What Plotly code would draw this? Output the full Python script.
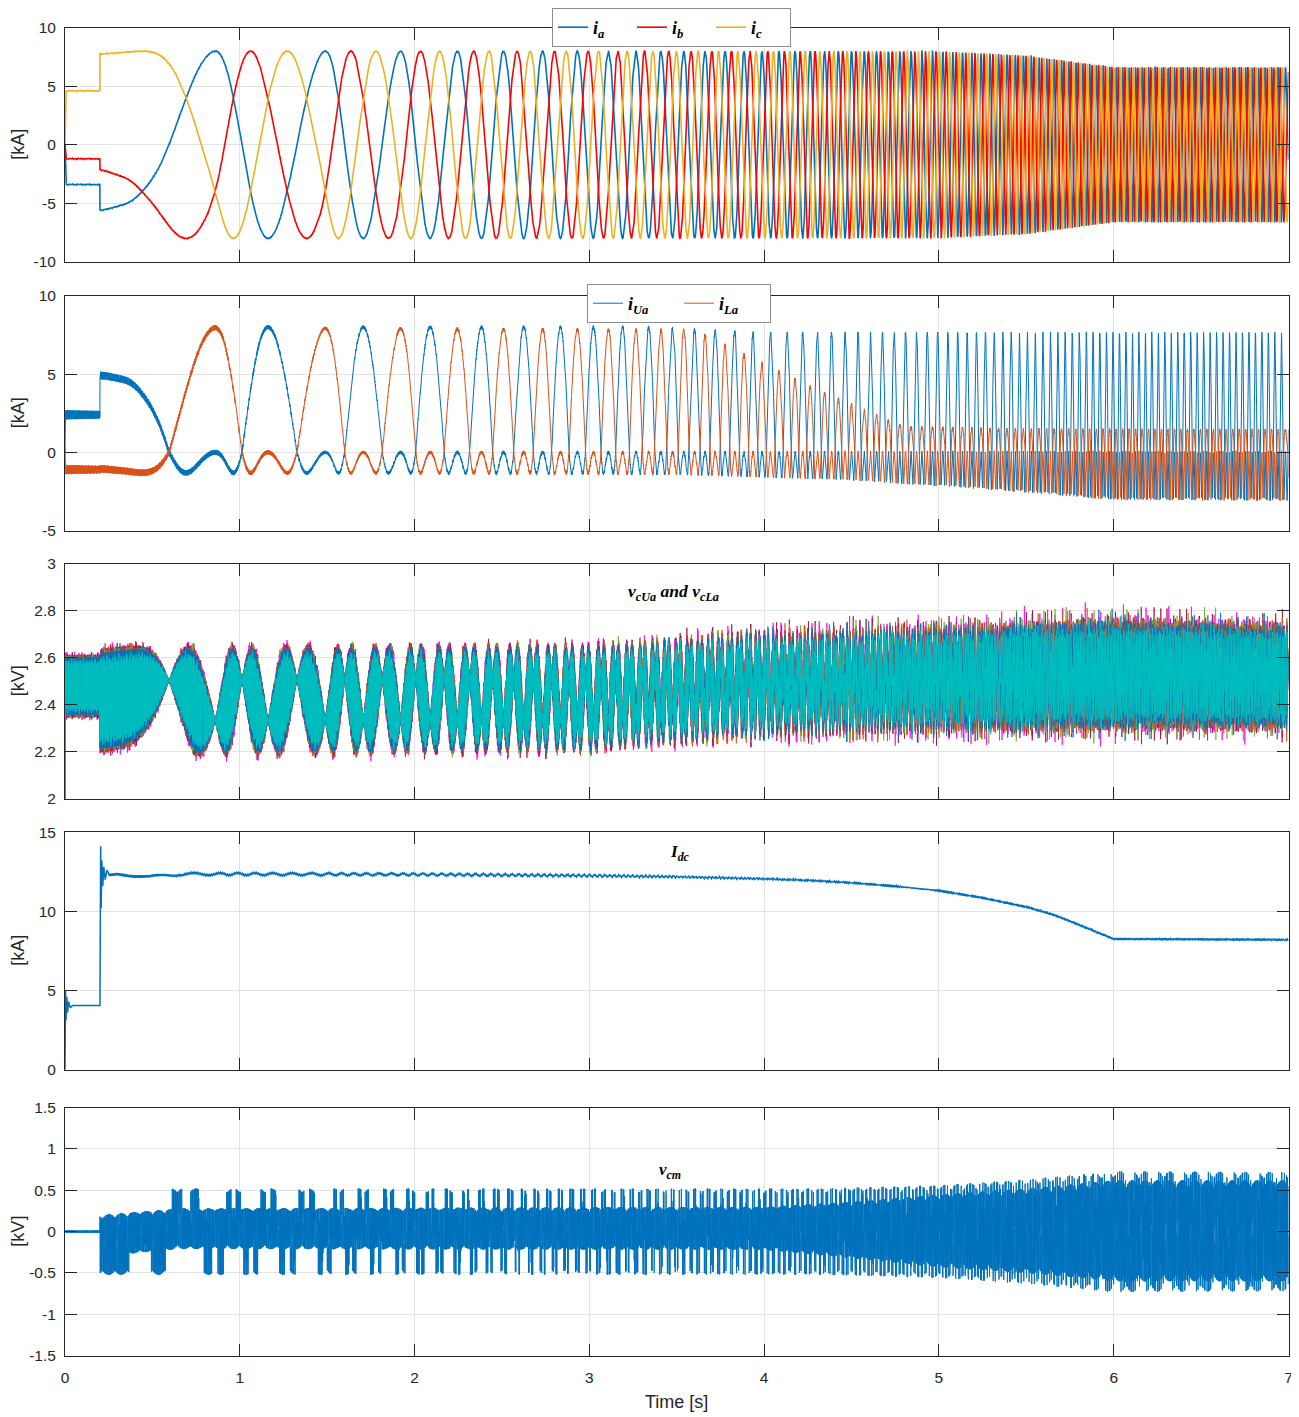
import numpy as np
import plotly.graph_objects as go

# ------------------------------------------------------------------ data
T_END = 7.0
DT = 0.0005
START_T = 0.2            # rotation starts

# rotating-system angle alpha (deg), ic = A cos(a), ia = A cos(a-120), ib = A cos(a+120), read at current extremes
phase_t = [0.20, 0.38, 0.44, 0.50, 0.58, 0.695, 0.865, 1.16, 1.494, 1.706, 1.923, 2.089]
phase_deg = [-15, -8, 0, 8, 25, 60, 120, 300, 480, 660, 840, 1020]
# stator frequency estimate after the last readable extreme
freq_t = [2.089, 3.0, 4.0, 5.0, 6.0, 7.0]
freq_hz = [3.0, 5.5, 10.0, 17.0, 27.0, 27.0]

# phase currents before start (kA)
init_t = [0.0, 0.004, 0.2]
init_ia = [0.0, -3.4, -3.4]
init_ib = [0.0, -1.2, -1.2]
init_ic = [0.0, 4.6, 4.6]
# phase current amplitude (kA)
amp_t = [0.2, 5.0, 5.5, 5.8, 6.0, 7.0]
amp_kA = [8.0, 7.95, 7.6, 7.0, 6.6, 6.6]

# arm currents (kA)
arm_pre_t = [0.0, 0.003, 0.2]
iua_pre = [0.0, 2.4, 2.4]
ila_pre = [0.0, -1.1, -1.1]
iua_peak_t = [0.2, 0.5, 0.8, 3.3, 4.0, 7.0]
iua_peak = [7.0, 7.6, 8.0, 8.0, 7.6, 7.6]
ila_peak_t = [0.2, 3.6, 4.3, 4.8, 5.5, 7.0]
ila_peak = [8.0, 7.8, 4.0, 1.6, 1.45, 1.4]
arm_dip_t = [0.2, 3.5, 4.5, 5.3, 6.0, 7.0]
arm_dip = [1.3, 1.35, 1.7, 2.3, 2.95, 3.0]
arm_rip_t = [0.0, 0.2, 0.7, 1.5, 7.0]
arm_rip = [0.3, 0.25, 0.18, 0.1, 0.1]

# capacitor voltages (kV)
vc_pre_mid, vc_pre_half = 2.48, 0.12
vc_t = [0.2, 3.0, 4.0, 5.0, 6.0, 7.0]
vc_mid = [2.415, 2.43, 2.49, 2.51, 2.53, 2.52]
vc_swing = [0.2, 0.2, 0.2, 0.21, 0.22, 0.21]
vc_pinch = [0.085, 0.085, 0.06, 0.04, 0.04, 0.04]
vc_spike = [0.1, 0.12, 0.2, 0.25, 0.28, 0.25]
vc_gain = [1.12, 1.10, 1.07, 1.05, 1.03, 0.90]

# dc current (kA)
idc_t = [0.000, 0.003, 0.006, 0.010, 0.015, 0.020, 0.030, 0.040, 0.200, 0.204, 0.207, 0.211,
         0.216, 0.222, 0.230, 0.240, 0.250, 0.300, 0.400, 0.480, 0.550, 0.650, 1.0, 2.0,
         3.0, 3.5, 4.0, 4.25, 4.5, 4.75, 5.0, 5.25, 5.5, 5.65, 5.8, 5.9, 6.0, 7.0]
idc_kA = [0.0, 5.0, 3.1, 4.6, 3.6, 4.3, 3.9, 4.05, 4.05, 14.1, 10.2, 13.2,
          11.6, 12.8, 12.0, 12.6, 12.4, 12.45, 12.25, 12.15, 12.2, 12.35, 12.35, 12.33,
          12.25, 12.18, 12.05, 11.95, 11.8, 11.58, 11.3, 10.85, 10.27, 9.8, 9.15, 8.7, 8.25, 8.2]
idc_rip_t = [0.25, 0.4, 0.7, 3.0, 4.0, 7.0]
idc_rip = [0.18, 0.2, 0.12, 0.1, 0.08, 0.06]

# common-mode voltage (kV)
vcm_t = [0.2, 0.65, 4.0, 4.5, 5.0, 5.5, 6.0, 7.0]
vcm_hi = [0.2, 0.28, 0.3, 0.36, 0.45, 0.52, 0.62, 0.62]
vcm_lo = [-0.3, -0.21, -0.22, -0.32, -0.43, -0.5, -0.6, -0.6]
vcm_burst_t = [0.2, 4.3, 5.0, 5.5, 6.0, 7.0]
vcm_burst = [0.52, 0.52, 0.56, 0.63, 0.73, 0.72]
vcm_window_deg = [8, 25]

# axis ticks
x_ticks = [0, 1, 2, 3, 4, 5, 6, 7]
y1_ticks, y1_text = [-10, -5, 0, 5, 10], ["-10", "-5", "0", "5", "10"]
y2_ticks, y2_text = [-5, 0, 5, 10], ["-5", "0", "5", "10"]
y3_ticks, y3_text = [2, 2.2, 2.4, 2.6, 2.8, 3], ["2", "2.2", "2.4", "2.6", "2.8", "3"]
y4_ticks, y4_text = [0, 5, 10, 15], ["0", "5", "10", "15"]
y5_ticks, y5_text = [-1.5, -1, -0.5, 0, 0.5, 1, 1.5], ["-1.5", "-1", "-0.5", "0", "0.5", "1", "1.5"]

# ------------------------------------------------------------------ signals
t = np.round(np.arange(0.0, T_END + DT / 2, DT), 6)
pre = t < START_T
TWO_PI = 2 * np.pi

alpha = np.interp(t, phase_t, phase_deg).astype(float)
f_late = np.interp(t, freq_t, freq_hz)
cyc = np.concatenate([[0.0], np.cumsum(0.5 * (f_late[1:] + f_late[:-1]) * DT)])
i0 = int(round(phase_t[-1] / DT))
late = t > phase_t[-1]
alpha[late] = phase_deg[-1] + 360.0 * (cyc[late] - cyc[i0])
w = int(round(0.1 / DT))
alpha = np.convolve(np.pad(alpha, (w // 2, w - 1 - w // 2), mode="edge"), np.ones(w) / w, mode="valid")
ar = np.deg2rad(alpha)

A = np.interp(t, amp_t, amp_kA)
ia_c = A * np.cos(ar - TWO_PI / 3)
ib_c = A * np.cos(ar + TWO_PI / 3)
ic_c = A * np.cos(ar)
rip1 = 0.04 * np.sin(TWO_PI * 347 * t)
ia = np.where(pre, np.interp(t, init_t, init_ia), ia_c) + rip1
ib = np.where(pre, np.interp(t, init_t, init_ib), ib_c) + rip1
ic = np.where(pre, np.interp(t, init_t, init_ic), ic_c) + rip1

# arm currents
xu = -ia_c / A
xl = ia_c / A
D = np.interp(t, arm_dip_t, arm_dip)
R2 = np.interp(t, arm_rip_t, arm_rip)
iua = np.where(xu > 0, np.interp(t, iua_peak_t, iua_peak) * xu, -D * np.sin(np.pi * np.abs(xu)))
ila = np.where(xl > 0, np.interp(t, ila_peak_t, ila_peak) * xl, -D * np.sin(np.pi * np.abs(xl)))
iua = np.where(pre, np.interp(t, arm_pre_t, iua_pre), iua) + R2 * np.sin(TWO_PI * 419 * t)
ila = np.where(pre, np.interp(t, arm_pre_t, ila_pre), ila) + R2 * np.sin(TWO_PI * 389 * t + 1.0)

# capacitor voltages
phi = 2 * (ar - TWO_PI / 3)
mid = np.interp(t, vc_t, vc_mid) - np.interp(t, vc_t, vc_pinch) * np.cos(phi)
half = np.interp(t, vc_t, vc_swing) * np.abs(np.sin(phi))
mid = np.where(pre, vc_pre_mid, mid)
half = np.where(pre, vc_pre_half, half)
S = np.interp(t, vc_t, vc_spike)
vc_traces = []
for k, g in enumerate(vc_gain):
    spike = S * np.maximum(0.0, np.sin(TWO_PI * (23 + 4.3 * k) * t + 0.7 * k)) ** 8
    v = mid + half * g * (1 + spike) * np.sin(TWO_PI * (293 + 19 * k) * t + 0.9 * k)
    v[0] = 2.0
    vc_traces.append(v)

# dc current
idc = np.interp(t, idc_t, idc_kA)
idc = idc + np.where(t > 0.25, np.interp(t, idc_rip_t, idc_rip) *
                     (0.6 * np.sin(6 * ar) + 0.4 * np.sin(TWO_PI * 97 * t)), 0.0)

# common-mode voltage
kk = np.round(alpha / 60.0)
dd = np.abs(alpha - 60.0 * kk)
cluster = (dd >= vcm_window_deg[0]) & (dd <= vcm_window_deg[1])
odd = (kk.astype(int) % 2) == 1
B = np.interp(t, vcm_burst_t, vcm_burst)
hi = np.where(cluster & odd, B, np.interp(t, vcm_t, vcm_hi))
lo = np.where(cluster & ~odd, -B, np.interp(t, vcm_t, vcm_lo))
car = np.sin(TWO_PI * 331 * t)
vcm = (hi + lo) / 2 + (hi - lo) / 2 * car
vcm = np.where(pre, 0.015 * car, vcm)

# ------------------------------------------------------------------ figure
OFF = 8                      # page body margin of the browser
W, H = 1299 - OFF, 1417 - OFF
FONT = "Liberation Sans, Arial, sans-serif"
SERIF = "Liberation Serif, Times New Roman, serif"
INK = "#262626"
GRID = "#e3e3e3"


def px(x):
    return (x - OFF) / W


def py(y):
    return 1 - (y - OFF) / H


xd = [px(65), px(1288.5)]
panels_px = [(26.7, 261), (295, 530), (563.3, 798.3), (831.7, 1069.3), (1107.3, 1355.7)]
doms = [[py(b), py(tp)] for tp, b in panels_px]

tt = np.round(t, 4)
fig = go.Figure()


def add(y, color, width, axis, name=None, legend=None, show=False):
    fig.add_trace(go.Scatter(
        x=tt, y=np.round(y, 3), mode="lines", name=name,
        line=dict(color=color, width=width), xaxis="x" + axis, yaxis="y" + axis,
        showlegend=show, legend=legend, hoverinfo="skip"))


add(ia, "#0072BD", 1.6, "", "<b><i>i</i></b><sub><b><i>a</i></b></sub>", "legend", True)
add(ib, "#FF0000", 1.6, "", "<b><i>i</i></b><sub><b><i>b</i></b></sub>", "legend", True)
add(ic, "#EDB120", 1.6, "", "<b><i>i</i></b><sub><b><i>c</i></b></sub>", "legend", True)
add(iua, "#0072BD", 1.0, "2", "<b><i>i</i></b><sub><b><i>Ua</i></b></sub>", "legend2", True)
add(ila, "#D95319", 1.0, "2", "<b><i>i</i></b><sub><b><i>La</i></b></sub>", "legend2", True)
vc_colors = ["#FF00FF", "#A2142F", "#77AC30", "#D95319", "#0072BD", "#00BFBF"]
for v, col in zip(vc_traces, vc_colors):
    add(v, col, 0.8, "3")
add(idc, "#0072BD", 1.5, "4")
add(vcm, "#0072BD", 1.0, "5")

yticks = [(y1_ticks, y1_text, [-10, 10]), (y2_ticks, y2_text, [-5, 10]),
          (y3_ticks, y3_text, [2, 3]), (y4_ticks, y4_text, [0, 15]),
          (y5_ticks, y5_text, [-1.5, 1.5])]

layout = dict(
    width=W, height=H, margin=dict(l=0, r=0, t=0, b=0),
    paper_bgcolor="white", plot_bgcolor="white",
    font=dict(family=FONT, color=INK, size=15.5),
    annotations=[],
)
axis_common = dict(showline=True, linecolor=INK, linewidth=1, mirror="ticks", ticks="inside",
                   ticklen=12, tickcolor=INK, tickwidth=1, showgrid=True, gridcolor=GRID,
                   gridwidth=1, zeroline=False, automargin=False,
                   tickfont=dict(family=FONT, size=15.5, color=INK))
for i in range(5):
    s = "" if i == 0 else str(i + 1)
    tv, tx, rg = yticks[i]
    layout["xaxis" + s] = dict(axis_common, domain=xd, range=[0, 7], tickvals=x_ticks,
                               ticktext=[str(v) for v in x_ticks], anchor="y" + s,
                               showticklabels=(i == 4), ticklabelstandoff=8,
                               **({} if i == 0 else {"matches": "x"}))
    layout["yaxis" + s] = dict(axis_common, domain=doms[i], range=rg, tickvals=tv, ticktext=tx,
                               anchor="x" + s, ticklabelstandoff=5)
    yc = (panels_px[i][0] + panels_px[i][1]) / 2
    unit = "[kV]" if i in (2, 4) else "[kA]"
    layout["annotations"].append(dict(text=unit, x=px(18), y=py(yc), xref="paper", yref="paper",
                                      textangle=-90, showarrow=False, xanchor="center",
                                      yanchor="middle", font=dict(family=FONT, size=18, color=INK)))

layout["annotations"].append(dict(text="Time [s]", x=px(676), y=py(1402), xref="paper",
                                  yref="paper", showarrow=False, yanchor="middle",
                                  font=dict(family=FONT, size=18, color=INK)))
titles = [
    ("<b><i>v</i></b><sub><b><i>cUa</i></b></sub><b><i> and v</i></b><sub><b><i>cLa</i></b></sub>", 673, 592, 17.5),
    ("<b><i>I</i></b><sub><b><i>dc</i></b></sub>", 680, 853, 17),
    ("<b><i>v</i></b><sub><b><i>cm</i></b></sub>", 670, 1171, 17),
]
for txt, xx, yy, fs in titles:
    layout["annotations"].append(dict(text=txt, x=px(xx), y=py(yy), xref="paper", yref="paper",
                                      showarrow=False, xanchor="center", yanchor="middle",
                                      font=dict(family=SERIF, size=fs, color="black")))

leg_common = dict(orientation="h", bgcolor="white", bordercolor="#8c8c8c", borderwidth=1,
                  font=dict(family=SERIF, size=18, color="black"), xanchor="left", yanchor="top",
                  entrywidthmode="pixels", tracegroupgap=0)
layout["legend"] = dict(leg_common, x=px(552), y=py(7), entrywidth=34)
layout["legend2"] = dict(leg_common, x=px(587), y=py(284), entrywidth=46)

fig.update_layout(**layout)
fig.write_html("out.html")
